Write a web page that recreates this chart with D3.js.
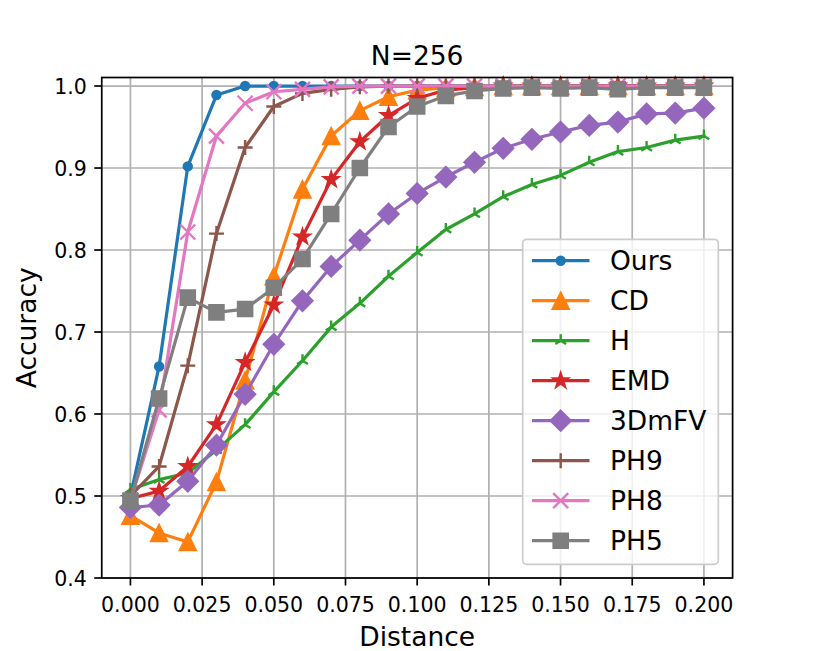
<!DOCTYPE html>
<html lang="en">
<head>
<meta charset="utf-8">
<script src="https://d3js.org/d3.v7.min.js"></script>
<style>
  body { margin: 0; background: white; }
  text { font-family: "DejaVu Sans", sans-serif; fill: black; }
</style>
</head>
<body>
<div id="chart"></div>
<script>
// x values (distance) shared by every series
const distances = [0, 0.01, 0.02, 0.03, 0.04, 0.05, 0.06, 0.07, 0.08, 0.09, 0.10,
                   0.11, 0.12, 0.13, 0.14, 0.15, 0.16, 0.17, 0.18, 0.19, 0.20];

const ours  = [0.500, 0.658, 0.902, 0.989, 1.000, 1.000, 1.000, 1.000, 1.000, 1.000, 1.000,
               1.000, 1.000, 1.000, 1.000, 1.000, 1.000, 1.000, 1.000, 1.000, 1.000];
const cd    = [0.476, 0.455, 0.444, 0.517, 0.641, 0.768, 0.874, 0.939, 0.970, 0.987, 0.995,
               0.998, 0.999, 1.000, 1.000, 1.000, 1.000, 1.000, 1.000, 1.000, 1.000];
const hd    = [0.508, 0.520, 0.528, 0.556, 0.587, 0.627, 0.665, 0.706, 0.735, 0.768, 0.797,
               0.825, 0.844, 0.865, 0.880, 0.891, 0.907, 0.920, 0.925, 0.934, 0.939];
const emd   = [0.497, 0.506, 0.536, 0.587, 0.663, 0.733, 0.816, 0.886, 0.932, 0.964, 0.985,
               0.995, 0.998, 1.000, 1.000, 1.000, 1.000, 1.000, 1.000, 1.000, 1.000];
const mfv   = [0.486, 0.489, 0.518, 0.562, 0.624, 0.685, 0.738, 0.780, 0.812, 0.844, 0.869,
               0.889, 0.907, 0.924, 0.935, 0.944, 0.952, 0.956, 0.966, 0.967, 0.973];
const ph9   = [0.500, 0.536, 0.659, 0.820, 0.925, 0.975, 0.991, 0.996, 0.999, 1.000, 1.000,
               1.000, 1.000, 1.000, 1.000, 1.000, 1.000, 1.000, 1.000, 1.000, 1.000];
const ph8   = [0.495, 0.605, 0.822, 0.939, 0.979, 0.993, 0.996, 0.999, 1.000, 1.000, 1.000,
               1.000, 1.000, 1.000, 1.000, 1.000, 1.000, 1.000, 1.000, 1.000, 1.000];
const ph5   = [0.494, 0.619, 0.742, 0.724, 0.728, 0.754, 0.789, 0.844, 0.900, 0.950, 0.975,
               0.988, 0.994, 0.997, 0.998, 0.997, 0.998, 0.996, 0.998, 0.998, 0.998];

const seriesNames = ["Ours", "CD", "H", "EMD", "3DmFV", "PH9", "PH8", "PH5"];
const seriesValues = [ours, cd, hd, emd, mfv, ph9, ph8, ph5];
const seriesColors = ["#1f77b4", "#ff7f0e", "#2ca02c", "#d62728", "#9467bd", "#8c564b", "#e377c2", "#7f7f7f"];
const seriesMarkers = ["point", "triangle", "tri", "star", "diamond", "plus", "cross", "square"];

const xTicks = [0, 0.025, 0.05, 0.075, 0.1, 0.125, 0.15, 0.175, 0.2];
const yTicks = [0.4, 0.5, 0.6, 0.7, 0.8, 0.9, 1.0];

// figure geometry (matplotlib-like)
const W = 814, H = 651;
const plot = { left: 101.75, right: 732.6, top: 77.5, bottom: 578 };
const lw = 1.7;

const svg = d3.select("#chart").append("svg")
    .attr("width", W).attr("height", H);

const x = d3.scaleLinear().domain([-0.01, 0.21]).range([plot.left, plot.right]);
const y = d3.scaleLinear().domain([0.4, 1.0104]).range([plot.bottom, plot.top]);

// grid
const grid = svg.append("g");
grid.selectAll(".gx").data(xTicks).join("line")
    .attr("x1", d => x(d)).attr("x2", d => x(d))
    .attr("y1", plot.top).attr("y2", plot.bottom)
    .attr("stroke", "#b0b0b0").attr("stroke-width", lw);
grid.selectAll(".gy").data(yTicks).join("line")
    .attr("class", "gy")
    .attr("x1", plot.left).attr("x2", plot.right)
    .attr("y1", d => y(d)).attr("y2", d => y(d))
    .attr("stroke", "#b0b0b0").attr("stroke-width", lw);

// marker shapes, drawn around (0,0)
function markerPath(kind) {
    switch (kind) {
        case "point": return d3.symbol(d3.symbolCircle, Math.PI * 4.4 * 4.4)();
        case "triangle": return "M0,-8.5L8.5,8.5L-8.5,8.5Z";
        case "square": return "M-7.5,-7.5H7.5V7.5H-7.5Z";
        case "diamond": return "M0,-10.5L10.5,0L0,10.5L-10.5,0Z";
        case "star": {
            const pts = [];
            for (let i = 0; i < 10; i++) {
                const r = i % 2 === 0 ? 8.5 : 8.5 * 0.381966;
                const a = -Math.PI / 2 + i * Math.PI / 5;
                pts.push([r * Math.cos(a), r * Math.sin(a)]);
            }
            return "M" + pts.map(p => p.join(",")).join("L") + "Z";
        }
        case "plus": return "M-7.5,0H7.5M0,-7.5V7.5";
        case "cross": return "M-7.5,-7.5L7.5,7.5M-7.5,7.5L7.5,-7.5";
        case "tri": return "M0,0V-6.5M0,0L-5.4,3.3M0,0L5.4,3.3";
    }
}
const strokeOnly = { plus: true, cross: true, tri: true };

function drawMarker(g, kind, color) {
    const p = g.append("path").attr("d", markerPath(kind))
        .attr("stroke", color).attr("stroke-linejoin", "miter");
    if (strokeOnly[kind]) {
        p.attr("fill", "none").attr("stroke-width", 2.4);
    } else {
        p.attr("fill", color).attr("stroke-width", 1.6);
    }
}

// series
const line = d3.line().x((d, i) => x(distances[i])).y(d => y(d));
const lines = svg.append("g");
seriesValues.forEach((vals, k) => {
    const g = lines.append("g");
    g.append("path").datum(vals)
        .attr("d", line)
        .attr("fill", "none")
        .attr("stroke", seriesColors[k])
        .attr("stroke-width", 3.2)
        .attr("stroke-linejoin", "round")
        .attr("stroke-linecap", "square");
    vals.forEach((v, i) => {
        const m = g.append("g").attr("transform", `translate(${x(distances[i])},${y(v)})`);
        drawMarker(m, seriesMarkers[k], seriesColors[k]);
    });
});

// axes spines
svg.append("rect")
    .attr("x", plot.left).attr("y", plot.top)
    .attr("width", plot.right - plot.left).attr("height", plot.bottom - plot.top)
    .attr("fill", "none").attr("stroke", "black").attr("stroke-width", lw);

// ticks + labels
const tickLen = 7.5, pad = 7.5, tickFont = 20.5;
svg.selectAll(".xt").data(xTicks).join("line")
    .attr("x1", d => x(d)).attr("x2", d => x(d))
    .attr("y1", plot.bottom).attr("y2", plot.bottom + tickLen)
    .attr("stroke", "black").attr("stroke-width", lw);
svg.selectAll(".xl").data(xTicks).join("text")
    .attr("x", d => x(d)).attr("y", 611.5)
    .attr("text-anchor", "middle").style("font-size", tickFont + "px")
    .text(d => d.toFixed(3));
svg.selectAll(".yt").data(yTicks).join("line")
    .attr("x1", plot.left - tickLen).attr("x2", plot.left)
    .attr("y1", d => y(d)).attr("y2", d => y(d))
    .attr("stroke", "black").attr("stroke-width", lw);
svg.selectAll(".yl").data(yTicks).join("text")
    .attr("x", plot.left - tickLen - pad).attr("y", d => y(d) + 7.5)
    .attr("text-anchor", "end").style("font-size", tickFont + "px")
    .text(d => d.toFixed(1));

// title and axis labels
const midX = (plot.left + plot.right) / 2;
svg.append("text").attr("x", midX).attr("y", 64.5)
    .attr("text-anchor", "middle").style("font-size", "26.5px").text("N=256");
svg.append("text").attr("x", midX).attr("y", 646)
    .attr("text-anchor", "middle").style("font-size", "26.5px").text("Distance");
svg.append("text")
    .attr("transform", `translate(36,${(plot.top + plot.bottom) / 2}) rotate(-90)`)
    .attr("text-anchor", "middle").style("font-size", "26.5px").text("Accuracy");

// legend
const legend = svg.append("g");
legend.append("rect")
    .attr("x", 522.7).attr("y", 239.3).attr("width", 195.6).attr("height", 325)
    .attr("rx", 4).attr("fill", "white").attr("fill-opacity", 0.8)
    .attr("stroke", "#cccccc").attr("stroke-width", lw);
seriesNames.forEach((name, k) => {
    const ry = 260.7 + k * 40;
    legend.append("line")
        .attr("x1", 532).attr("x2", 589.5).attr("y1", ry).attr("y2", ry)
        .attr("stroke", seriesColors[k]).attr("stroke-width", 3.2);
    const m = legend.append("g").attr("transform", `translate(560.7,${ry})`);
    drawMarker(m, seriesMarkers[k], seriesColors[k]);
    legend.append("text").attr("x", 610).attr("y", ry + 9.7)
        .style("font-size", "26.5px").text(name);
});
</script>
</body>
</html>
